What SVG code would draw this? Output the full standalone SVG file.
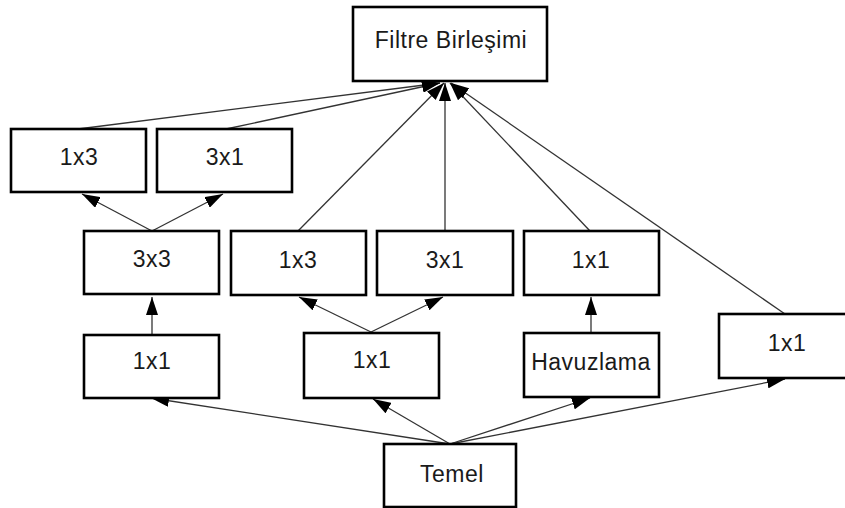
<svg xmlns="http://www.w3.org/2000/svg" width="845" height="508" viewBox="0 0 845 508">
  <style>
    .box { fill: #ffffff; stroke: #000000; stroke-width: 2.6; }
    .lbl { font-family: "Liberation Sans", Arial, sans-serif; font-size: 23px; letter-spacing: 0.5px; fill: #1a1a1a; text-anchor: middle; }
    .edge { fill: none; stroke: #333333; stroke-width: 1.3; marker-end: url(#arrow); }
  </style>
  <defs>
    <marker id="arrow" markerUnits="userSpaceOnUse" markerWidth="18" markerHeight="12" refX="18" refY="6" orient="auto">
      <path d="M0,0 L18,6 L0,12 z" fill="#000000"/>
    </marker>
  </defs>
  <rect width="845" height="508" fill="#ffffff"/>

  <g id="edges">
    <!-- into the concatenation node -->
    <line class="edge" x1="78" y1="129" x2="440" y2="83"/>
    <line class="edge" x1="226" y1="129" x2="440" y2="83"/>
    <line class="edge" x1="298" y1="231" x2="444" y2="83"/>
    <line class="edge" x1="445" y1="231" x2="445" y2="83"/>
    <line class="edge" x1="590" y1="231" x2="450" y2="83"/>
    <line class="edge" x1="785" y1="314" x2="451" y2="83"/>
    <!-- 3x3 branch -->
    <line class="edge" x1="152" y1="231" x2="82" y2="194"/>
    <line class="edge" x1="152" y1="231" x2="223" y2="194"/>
    <line class="edge" x1="152" y1="335" x2="152" y2="297"/>
    <!-- middle branch -->
    <line class="edge" x1="371" y1="332" x2="299" y2="297"/>
    <line class="edge" x1="371" y1="332" x2="443" y2="297"/>
    <!-- pooling branch -->
    <line class="edge" x1="591" y1="333" x2="591" y2="297"/>
    <!-- from the base node -->
    <line class="edge" x1="450" y1="444" x2="151" y2="398"/>
    <line class="edge" x1="450" y1="444" x2="373" y2="399"/>
    <line class="edge" x1="450" y1="444" x2="590" y2="398"/>
    <line class="edge" x1="450" y1="444" x2="785" y2="379"/>
  </g>

  <g id="concat">
    <rect class="box" x="353" y="7" width="194" height="74"/>
    <text class="lbl" x="451" y="48">Filtre Birleşimi</text>
  </g>
  <g id="top-1x3">
    <rect class="box" x="11" y="129" width="135" height="63"/>
    <text class="lbl" x="79" y="165">1x3</text>
  </g>
  <g id="top-3x1">
    <rect class="box" x="157" y="129" width="135" height="63"/>
    <text class="lbl" x="225" y="165">3x1</text>
  </g>
  <g id="mid-3x3">
    <rect class="box" x="84" y="231" width="135" height="63"/>
    <text class="lbl" x="152" y="267">3x3</text>
  </g>
  <g id="mid-1x3">
    <rect class="box" x="231" y="231" width="135" height="64"/>
    <text class="lbl" x="298" y="268">1x3</text>
  </g>
  <g id="mid-3x1">
    <rect class="box" x="377" y="231" width="136" height="64"/>
    <text class="lbl" x="445" y="268">3x1</text>
  </g>
  <g id="mid-1x1">
    <rect class="box" x="524" y="231" width="135" height="64"/>
    <text class="lbl" x="591" y="268">1x1</text>
  </g>
  <g id="low-1x1-a">
    <rect class="box" x="84" y="335" width="135" height="63"/>
    <text class="lbl" x="152" y="369">1x1</text>
  </g>
  <g id="low-1x1-b">
    <rect class="box" x="304" y="333" width="135" height="65"/>
    <text class="lbl" x="372" y="368">1x1</text>
  </g>
  <g id="pool">
    <rect class="box" x="524" y="333" width="135" height="64"/>
    <text class="lbl" x="591" y="370">Havuzlama</text>
  </g>
  <g id="side-1x1">
    <rect class="box" x="719" y="314" width="135" height="64"/>
    <text class="lbl" x="787" y="351">1x1</text>
  </g>
  <g id="base">
    <rect class="box" x="384" y="444" width="132" height="63"/>
    <text class="lbl" x="452" y="482">Temel</text>
  </g>
</svg>
